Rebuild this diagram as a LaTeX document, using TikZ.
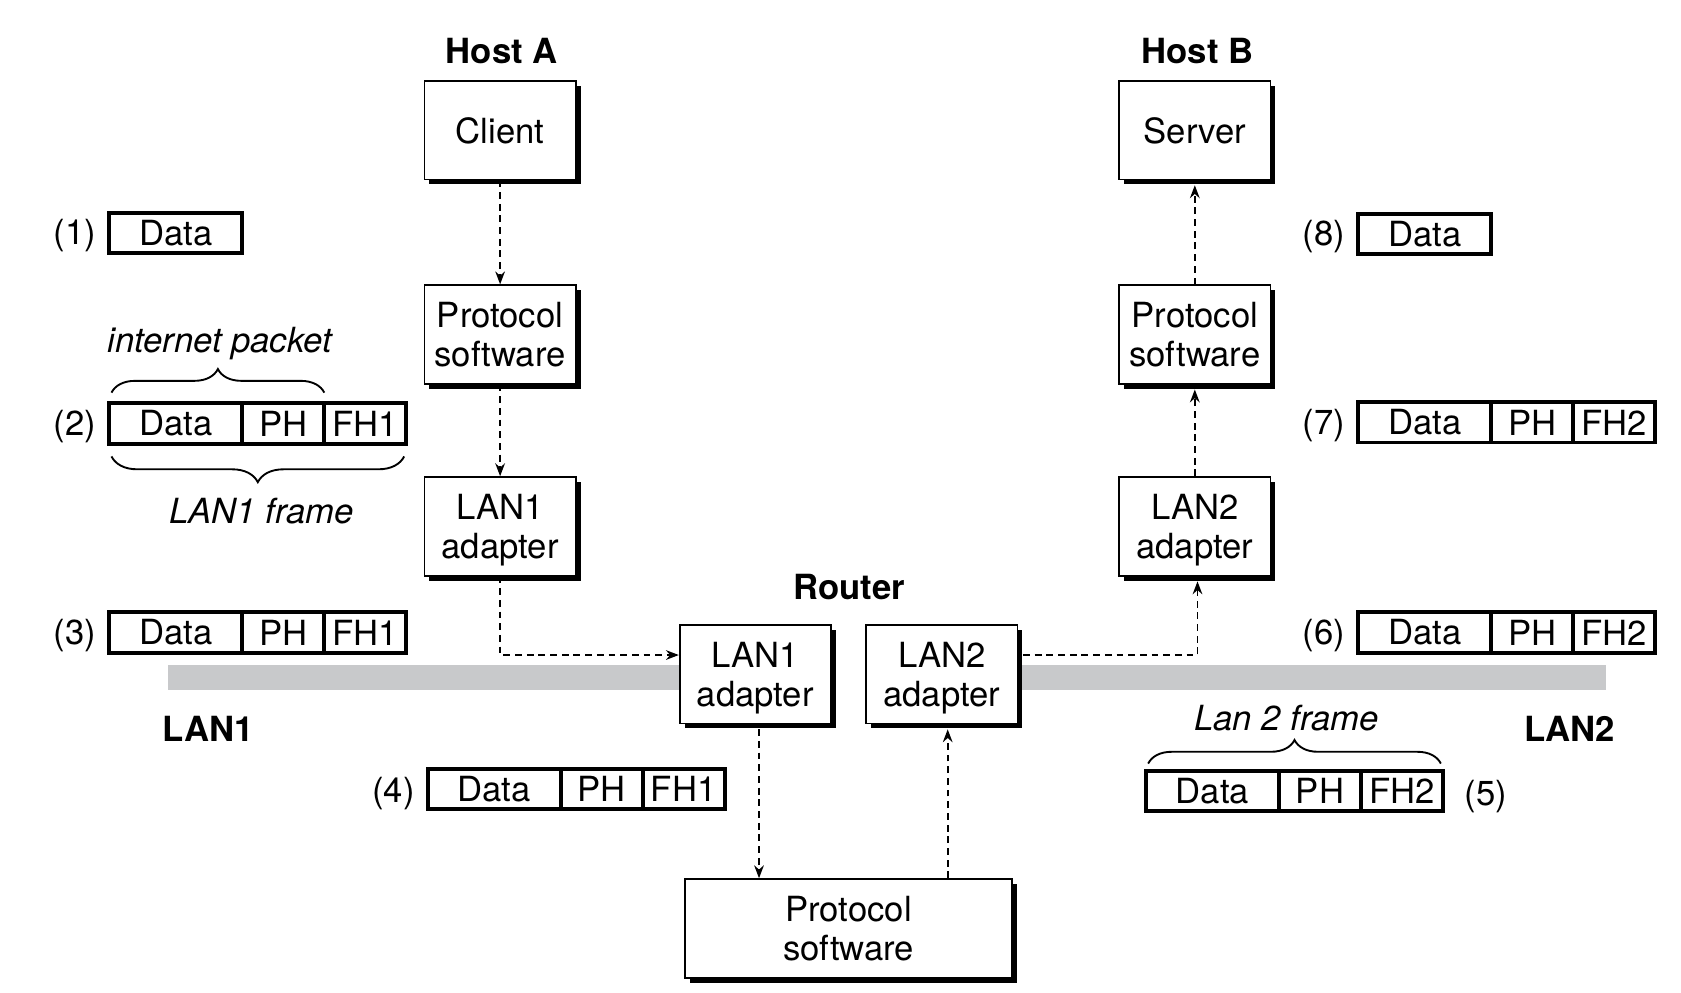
\documentclass[tikz,border=0pt]{standalone}
\usepackage{fontspec}
\setmainfont{TeX Gyre Heros}
\usetikzlibrary{arrows.meta,shadows,decorations.pathreplacing,calc}
\definecolor{lanbar}{HTML}{C8C9CB}
\newcommand\mypacket[4]{%
  \node[pk, minimum width=12.4mm] (#1d) at (#2,#3) {Data};
  \node[pk, minimum width=7.65mm] (#1p) at (#1d.east) {PH};
  \node[pk, minimum width=7.65mm] (#1f) at (#1p.east) {#4};
}
\begin{document}
\begin{tikzpicture}[x=0.1mm,y=-0.1mm,
  font=\fontsize{9.2}{10.5}\selectfont,
  box/.style={draw=black, line width=0.45pt, fill=white, align=center,
    inner sep=0pt, minimum width=14.1mm, minimum height=9.2mm, text depth=0pt,
    drop shadow={shadow xshift=0.45mm, shadow yshift=-0.45mm, fill=black, opacity=1}},
  lbl/.style={font=\fontsize{9.2}{10.5}\selectfont\bfseries},
  num/.style={yshift=-0.3mm},
  conn/.style={line width=0.5pt, dash pattern=on 1.8pt off 1.3pt,
    -{Stealth[length=1.2mm,width=0.9mm]}},
  pk/.style={draw, line width=1.05pt, minimum height=3.75mm, inner sep=0pt,
    outer sep=0pt, anchor=west},
  brace/.style={decorate, decoration={brace, amplitude=2.2mm}, line width=0.5pt}]
\useasboundingbox (0,0) rectangle (1568,926);
% LAN bars
\fill[lanbar] (157,620) rectangle (640,644);
\fill[lanbar] (945,620) rectangle (1498,644);
% boxes
\node[box] (client) at (466.5,121.5) {Client};
\node[box] (protA) at (466.5,312) {Protocol\\software};
\node[box] (lanA) at (466.5,491) {LAN1\\adapter};
\node[box] (server) at (1114.5,121.5) {Server};
\node[box] (protB) at (1114.5,312) {Protocol\\software};
\node[box] (lanB) at (1114.5,491) {LAN2\\adapter};
\node[box] (rl1) at (704.5,629) {LAN1\\adapter};
\node[box] (rl2) at (878.5,629) {LAN2\\adapter};
\node[box, minimum width=30.5mm] (rprot) at (791.5,866) {Protocol\\software};
% labels
\node[lbl] (hostA) at (468,48) {Host A};
\node[lbl] (hostB) at (1117,48) {Host B};
\node[lbl] (router) at (792,548) {Router};
\node[lbl] (lan1) at (194,680) {LAN1};
\node[lbl] (lan2) at (1464,680) {LAN2};
% connectors
\draw[conn] (client.south) -- (protA.north);
\draw[conn] (protA.south) -- (lanA.north);
\draw[conn] (lanA.south) |- ([yshift=1.8mm]rl1.west);
\coordinate (r2s) at ($(rl2.east)+(4.5,-18)$);
\coordinate (lbB) at ($(lanB.south)+(2.5,4.5)$);
\draw[conn] (r2s) -| (lbB);
\coordinate (pBs) at ($(protB.south)+(0,4.5)$);
\draw[conn] (lanB.north) -- (pBs);
\coordinate (svs) at ($(server.south)+(0,4.5)$);
\draw[conn] (protB.north) -- (svs);
\coordinate (r1d) at ($(rl1.south)+(3.5,4.5)$);
\coordinate (r1e) at (r1d |- rprot.north);
\draw[conn] (r1d) -- (r1e);
\coordinate (r2u) at ($(rl2.south)+(5.5,4.5)$);
\coordinate (r2b) at (r2u |- rprot.north);
\draw[conn] (r2b) -- (r2u);
% packets
\node[pk, minimum width=12.4mm] (p1d) at (102,217) {Data};
\mypacket{p2}{102}{395}{FH1}
\mypacket{p3}{102}{590}{FH1}
\mypacket{p4}{399}{736}{FH1}
\mypacket{p5}{1069}{738}{FH2}
\mypacket{p6}{1267}{590}{FH2}
\mypacket{p7}{1267}{394}{FH2}
\node[pk, minimum width=12.4mm] (p8d) at (1267,218) {Data};
% numbers
\node[num] (n1) at (70,217) {(1)};
\node[num] (n2) at (70,395) {(2)};
\node[num] (n3) at (70,590) {(3)};
\node[num] (n4) at (367,737) {(4)};
\node[num] (n5) at (1386,740) {(5)};
\node[num] (n6) at (1235,590) {(6)};
\node[num] (n7) at (1235,394) {(7)};
\node[num] (n8) at (1235,218) {(8)};
% braces
\draw[brace] ($(p2d.north west)+(2,-10)$) -- ($(p2p.north east)+(0,-10)$);
\node (ip) at (205,320) {\itshape internet packet};
\draw[brace, decoration={amplitude=2.4mm}] ($(p2f.south east)+(-2,12)$) -- ($(p2d.south west)+(2,12)$);
\node (l1f) at (244,477) {\itshape LAN1 frame};
\draw[brace] ($(p5d.north west)+(2,-7)$) -- ($(p5f.north east)+(-2,-7)$);
\node (l2f) at (1200,670) {\itshape Lan 2 frame};
\end{tikzpicture}
\end{document}
